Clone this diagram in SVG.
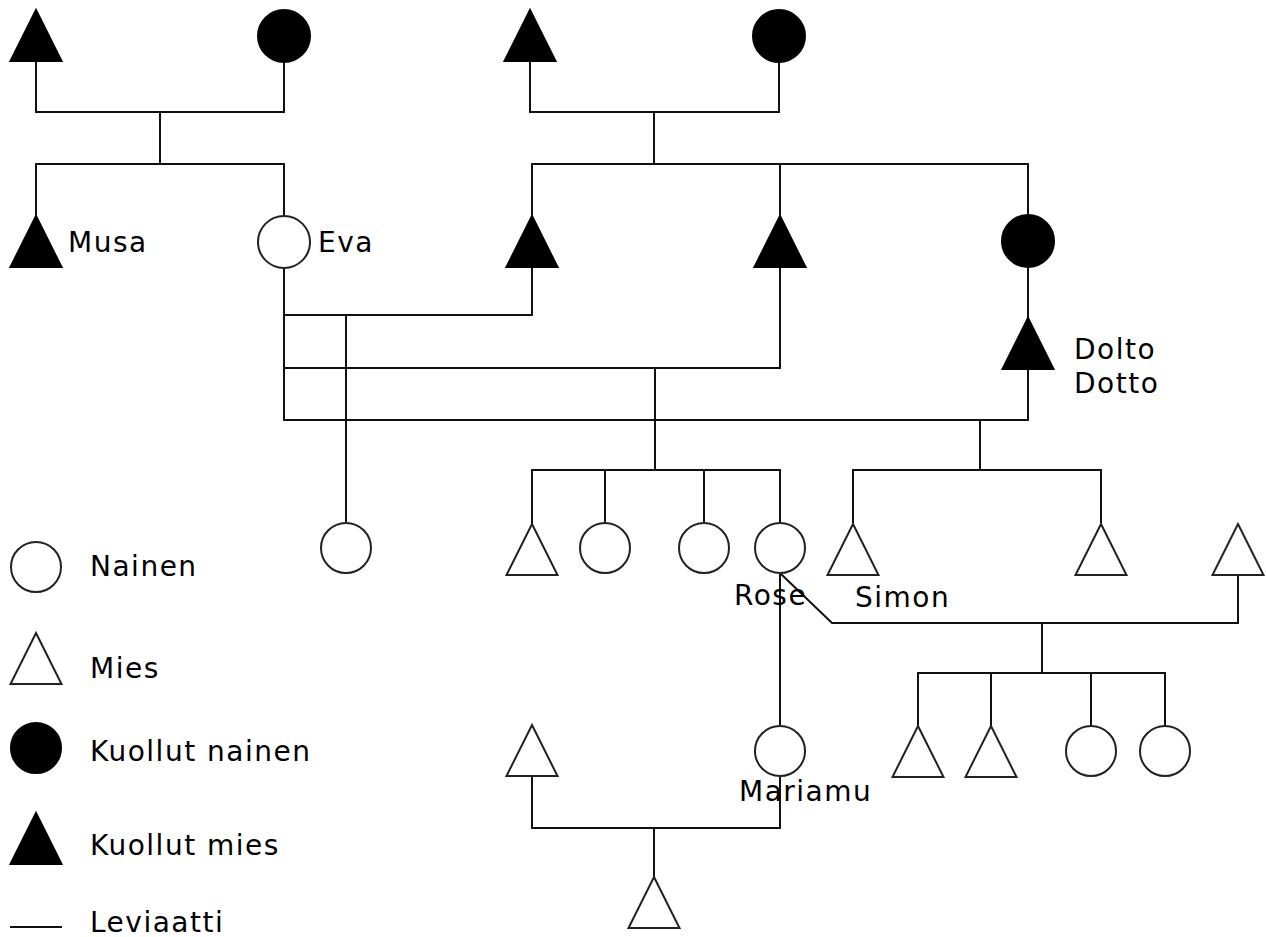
<svg xmlns="http://www.w3.org/2000/svg" width="1266" height="937" viewBox="0 0 1266 937">
<style>
.dead{fill:#000;stroke:#000;stroke-width:2}
.alive{fill:#fff;stroke:#222;stroke-width:2}
.ln{fill:none;stroke:#111;stroke-width:2}
text{font-family:"DejaVu Sans",Verdana,sans-serif;font-size:28px;letter-spacing:1.5px;fill:#000}
</style>
<defs>
<polygon id="tri" points="0,0 25.5,51 -25.5,51"/>
</defs>
<rect width="1266" height="937" fill="#fff"/>
<g id="connectors" class="ln">
<path d="M36,61 V112 H284 V62"/>
<path d="M160,112 V164"/>
<path d="M36,215 V164 H284 V216"/>
<path d="M530,61 V112 H779 V62"/>
<path d="M654,112 V164"/>
<path d="M532,215 V164 H1028 V215"/>
<path d="M780,164 V215"/>
<path d="M532,267 V315 H284"/>
<path d="M284,268 V420 H1028 V369"/>
<path d="M346,315 V522"/>
<path d="M780,267 V368 H284"/>
<path d="M1028,267 V318"/>
<path d="M655,368 V470"/>
<path d="M532,524 V470 H780 V522"/>
<path d="M605,470 V522"/>
<path d="M704,470 V522"/>
<path d="M980,420 V470"/>
<path d="M853,523 V470 H1101 V523"/>
<path d="M781,574 L832,623 H1238 V575"/>
<path d="M780,574 V725"/>
<path d="M1042,623 V673"/>
<path d="M918,727 V673 H1165 V726"/>
<path d="M991,673 V727"/>
<path d="M1091,673 V726"/>
<path d="M532,775 V828 H780 V777"/>
<path d="M654,828 V877"/>
</g>
<g id="gp1-father"><use href="#tri" x="36" y="10" class="dead"/></g>
<g id="gp1-mother"><circle cx="284" cy="36" r="26" class="dead"/></g>
<g id="gp2-father"><use href="#tri" x="530" y="10" class="dead"/></g>
<g id="gp2-mother"><circle cx="779" cy="36" r="26" class="dead"/></g>
<g id="musa"><use href="#tri" x="36" y="216" class="dead"/><text x="68" y="252">Musa</text></g>
<g id="eva"><circle cx="284" cy="242" r="26" class="alive"/><text x="318" y="252">Eva</text></g>
<g id="p2-son1"><use href="#tri" x="532" y="216" class="dead"/></g>
<g id="p2-son2"><use href="#tri" x="780" y="216" class="dead"/></g>
<g id="p2-daughter"><circle cx="1028" cy="241" r="26" class="dead"/></g>
<g id="dolto"><use href="#tri" x="1028" y="318" class="dead"/><text x="1074" y="359">Dolto</text><text x="1074" y="393">Dotto</text></g>
<g id="g3-c1"><circle cx="346" cy="548" r="25" class="alive"/></g>
<g id="g3-t1"><use href="#tri" x="532" y="524" class="alive"/></g>
<g id="g3-c2"><circle cx="605" cy="548" r="25" class="alive"/></g>
<g id="g3-c3"><circle cx="704" cy="548" r="25" class="alive"/></g>
<g id="rose"><circle cx="780" cy="548" r="25" class="alive"/><text x="734" y="605">Rose</text></g>
<g id="simon"><use href="#tri" x="853" y="524" class="alive"/><text x="855" y="607">Simon</text></g>
<g id="g3-t2"><use href="#tri" x="1101" y="524" class="alive"/></g>
<g id="g3-t3"><use href="#tri" x="1238" y="524" class="alive"/></g>
<g id="g4-t1"><use href="#tri" x="532" y="725" class="alive"/></g>
<g id="mariamu"><circle cx="780" cy="751" r="25" class="alive"/><text x="739" y="801">Mariamu</text></g>
<g id="g4-t2"><use href="#tri" x="918" y="726" class="alive"/></g>
<g id="g4-t3"><use href="#tri" x="991" y="726" class="alive"/></g>
<g id="g4-c1"><circle cx="1091" cy="751" r="25" class="alive"/></g>
<g id="g4-c2"><circle cx="1165" cy="751" r="25" class="alive"/></g>
<g id="g5-t1"><use href="#tri" x="654" y="877" class="alive"/></g>
<g id="legend">
<circle cx="36" cy="567" r="25" class="alive"/><text x="90" y="576">Nainen</text>
<use href="#tri" x="36" y="633" class="alive"/><text x="90" y="678">Mies</text>
<circle cx="36" cy="748" r="25" class="dead"/><text x="90" y="761">Kuollut nainen</text>
<use href="#tri" x="36" y="813" class="dead"/><text x="90" y="855">Kuollut mies</text>
<path d="M10,927 H62" class="ln"/><text x="90" y="932">Leviaatti</text>
</g>
</svg>
